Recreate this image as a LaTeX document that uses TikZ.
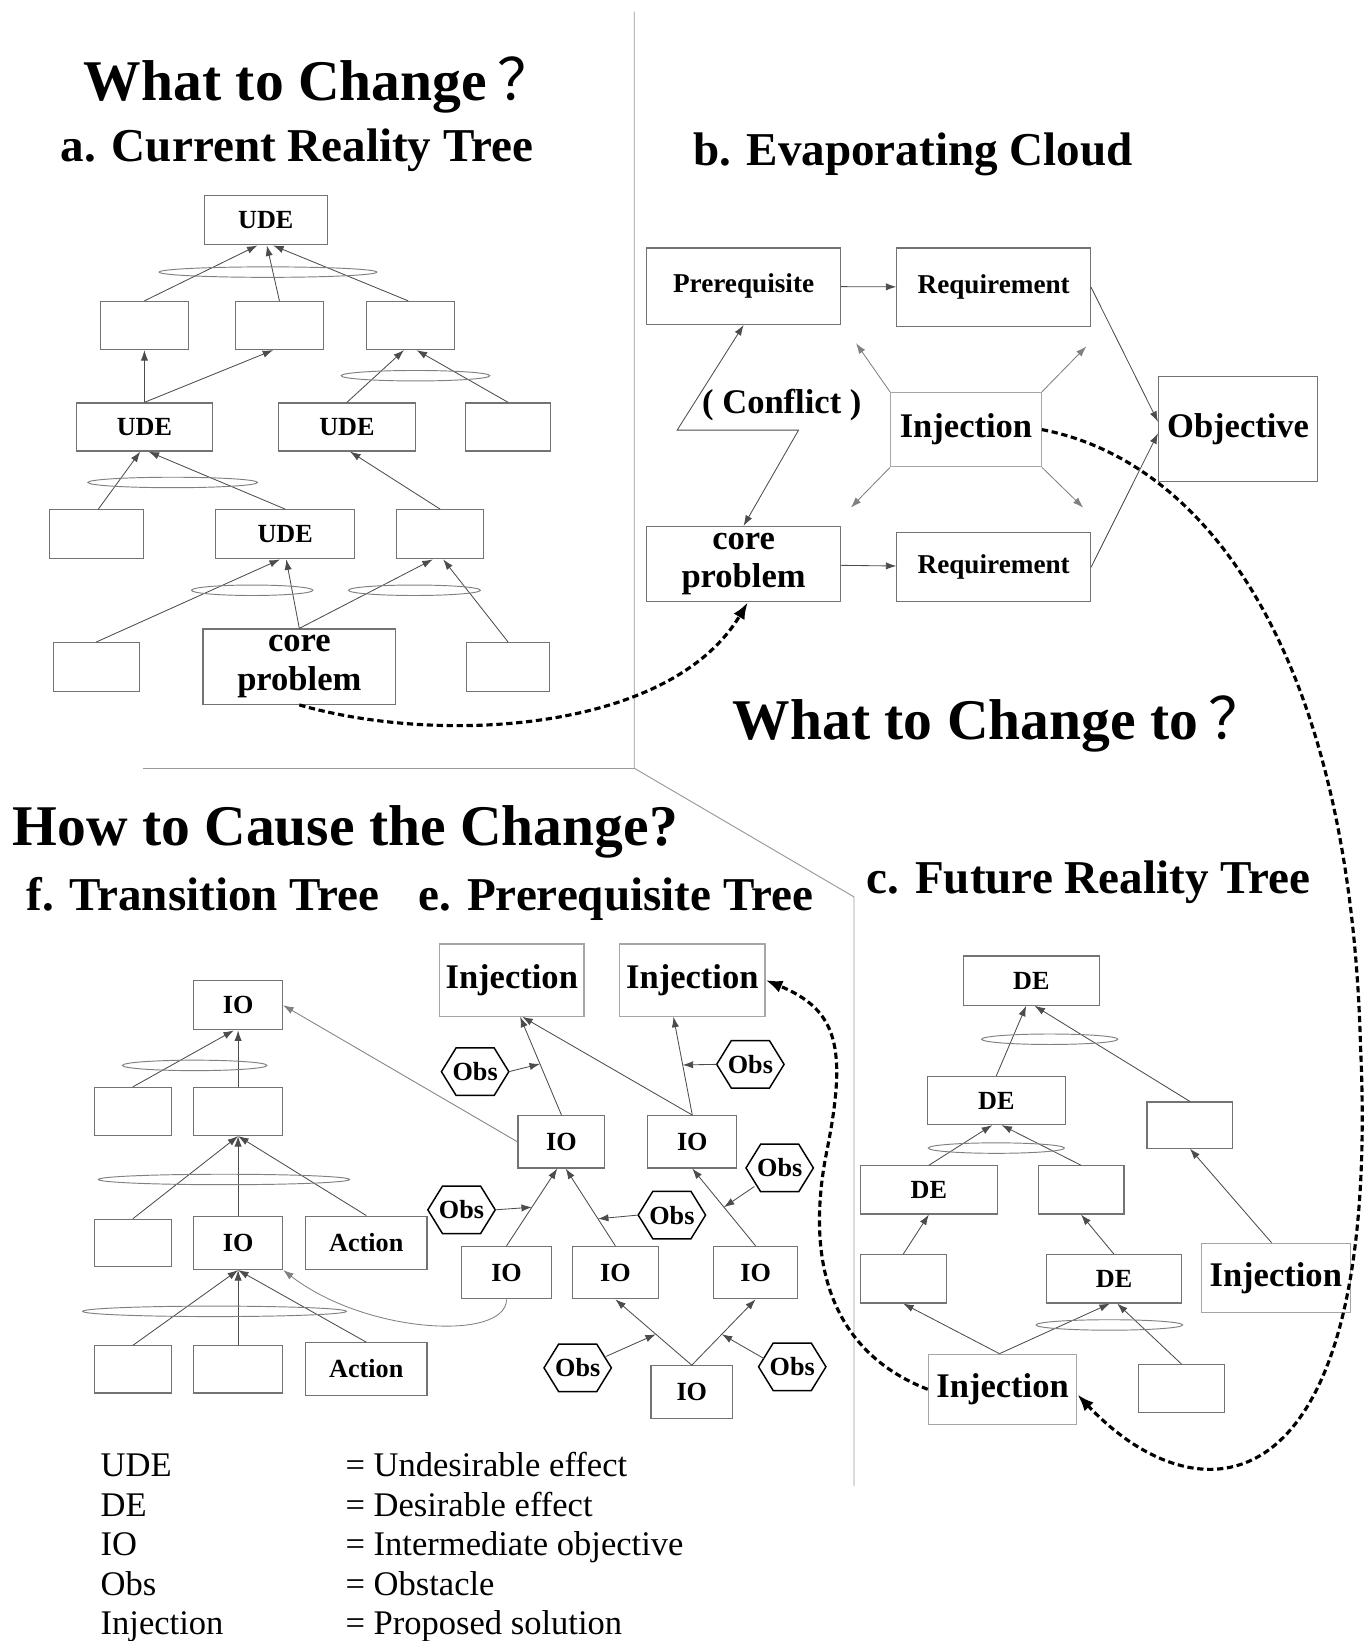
\documentclass[tikz,border=0pt]{standalone}
\usepackage{fontspec}
\setmainfont{Liberation Serif}
\newfontfamily\cjk{Noto Sans CJK SC}
\usetikzlibrary{arrows.meta,calc}

\tikzset{
  box/.style={draw=black!55, line width=1.1pt, inner sep=0pt, font=\bfseries\fontsize{25}{28}\selectfont},
  bigbox/.style={box, align=center, font=\bfseries\fontsize{33}{37}\selectfont},
  injbox/.style={bigbox, draw=black!35},
  reqbox/.style={box, font=\bfseries\fontsize{26}{28}\selectfont},
  arr/.style={draw=black!70, line width=0.8pt, -{Latex[length=10pt,width=7pt]}},
  thinarr/.style={arr, draw=black!50},
  andring/.style={draw=black!50, line width=0.9pt},
  divider/.style={draw=black!40, line width=0.9pt},
  jump/.style={line width=3pt, dash pattern=on 6pt off 3.5pt, -{Latex[length=16pt,width=12pt]}},
  obs/.style={inner sep=0pt, minimum width=64, minimum height=45, font=\bfseries\fontsize{25}{28}\selectfont},
  hexline/.style={draw=black, line width=1.4pt},
  bighead/.style={anchor=base west, inner sep=0pt, font=\bfseries\fontsize{55}{60}\selectfont},
  subhead/.style={anchor=base west, inner sep=0pt, font=\bfseries\fontsize{45}{50}\selectfont},
  keytext/.style={anchor=base west, inner sep=0pt, font=\fontsize{33}{38}\selectfont},
}

\begin{document}
\begin{tikzpicture}[x=1pt, y=-1pt]
  \fill[white] (0,0) rectangle (1306,1568);
  \useasboundingbox (0,0) rectangle (1306,1568);

  % dividers
  \draw[divider] (606,11) -- (606,734) -- (816,857) -- (816,1420);
  \draw[divider] (137,734) -- (606,734);

  % headings
  \node[bighead] (hwhat) at (80,96) {What to Change\hspace{10pt}{\cjk\mdseries ？}};
  \node[subhead] (hcrt) at (58,154) {a. Current Reality Tree};
  \node[subhead] (hec) at (662,158) {b. Evaporating Cloud};
  \node[bighead] (hwhatto) at (700,707) {What to Change to\hspace{10pt}{\cjk\mdseries ？}};
  \node[bighead] (hhow) at (12,808) {How to Cause the Change?};
  \node[subhead] (htt) at (25,870) {f. Transition Tree};
  \node[subhead] (hpt) at (400,870) {e. Prerequisite Tree};
  \node[subhead] (hfrt) at (828,854) {c. Future Reality Tree};

  % a. current reality tree
  \node[box, minimum width=118, minimum height=47] (a1) at (254,210.5) {UDE};
  \foreach \n/\cx in {21/138, 22/267, 23/392}
    \node[box, minimum width=84, minimum height=46] (a\n) at (\cx,311) {};
  \node[box, minimum width=130, minimum height=46] (a31) at (138,408) {UDE};
  \node[box, minimum width=131, minimum height=46] (a32) at (331.5,408) {UDE};
  \node[box, minimum width=81, minimum height=46] (a33) at (485.5,408) {};
  \node[box, minimum width=90, minimum height=47] (a41) at (92,510.5) {};
  \node[box, minimum width=133, minimum height=47] (a42) at (272.5,510.5) {UDE};
  \node[box, minimum width=83, minimum height=47] (a43) at (420.5,510.5) {};
  \node[box, minimum width=82, minimum height=47] (a51) at (92,637.5) {};
  \node[bigbox, minimum width=184, minimum height=72] (a52) at (286,637) {core\\problem};
  \node[box, minimum width=79, minimum height=47] (a53) at (485.5,637.5) {};

  \draw[arr] (a21.north) -- ([xshift=-8]a1.south);
  \draw[arr] (a22.north) -- ([xshift=1]a1.south);
  \draw[arr] ([xshift=-2]a23.north) -- ([xshift=7]a1.south);
  \draw[arr] (a31.north) -- (a21.south);
  \draw[arr] (a31.north) -- ([xshift=-6]a22.south);
  \draw[arr] (a32.north) -- ([xshift=-6]a23.south);
  \draw[arr] (a33.north) -- ([xshift=6]a23.south);
  \draw[arr] ([xshift=2]a41.north) -- ([xshift=-4]a31.south);
  \draw[arr] (a42.north) -- ([xshift=4]a31.south);
  \draw[arr] (a43.north) -- ([xshift=3]a32.south);
  \draw[arr] (a51.north) -- ([xshift=-5]a42.south);
  \draw[arr] (a52.north) -- ([xshift=1]a42.south);
  \draw[arr] (a52.north) -- ([xshift=-7]a43.south);
  \draw[arr] (a53.north) -- ([xshift=3]a43.south);
  \foreach \cx/\cy/\rx in {256/260/104, 397/359/71, 165/461/81, 241/564/58, 396/564/63}
    \draw[andring] (\cx,\cy) ellipse [x radius=\rx, y radius=5];

  % b. evaporating cloud
  \node[reqbox, minimum width=185, minimum height=73] (bpre) at (710.5,273.5) {Prerequisite};
  \node[reqbox, minimum width=185, minimum height=75] (breq1) at (949.5,274.5) {Requirement};
  \node[injbox, minimum width=144, minimum height=71] (binj) at (923,410.5) {Injection};
  \node[bigbox, minimum width=152, minimum height=100] (bobj) at (1183,410) {Objective};
  \node[bigbox, minimum width=185, minimum height=72] (bcore) at (710.5,539) {core\\problem};
  \node[reqbox, minimum width=185, minimum height=66] (breq2) at (949.5,542) {Requirement};
  \node[inner sep=0pt, font=\bfseries\fontsize{33}{36}\selectfont] (bconf) at (747,387) {( Conflict )};

  \draw[arr] (bpre) -- (breq1);
  \draw[arr] (bcore) -- (breq2);
  \draw[arr] (breq1.east) -- ([yshift=7]bobj.west);
  \draw[arr] (breq2.east) -- ([yshift=-4]bobj.west);
  \coordinate (cf1) at (763,411);
  \coordinate (cf2) at (647,411);
  \draw[arr, {Latex[length=10pt,width=7pt]}-{Latex[length=10pt,width=7pt]}]
    (bcore.north) -- (cf1) -- (cf2) -- (bpre.south);
  \coordinate (bnw) at (818,328);
  \coordinate (bne) at (1038,331);
  \coordinate (bsw) at (813,485);
  \coordinate (bse) at (1035,485);
  \draw[thinarr] (binj.north west) -- (bnw);
  \draw[thinarr] (binj.north east) -- (bne);
  \draw[thinarr] (binj.south west) -- (bsw);
  \draw[thinarr] (binj.south east) -- (bse);

  % c. future reality tree
  \node[box, minimum width=130, minimum height=47] (c1) at (985.5,937) {DE};
  \node[box, minimum width=132, minimum height=46] (c2) at (952,1051.5) {DE};
  \node[box, minimum width=82, minimum height=44] (c2r) at (1137,1075) {};
  \node[box, minimum width=131, minimum height=46] (c3) at (887.5,1137) {DE};
  \node[box, minimum width=82, minimum height=46] (c3r) at (1033,1137) {};
  \node[box, minimum width=82, minimum height=46] (c4) at (863,1222) {};
  \node[box, minimum width=129, minimum height=46] (c4m) at (1064.5,1222) {DE};
  \node[injbox, minimum width=142, minimum height=66] (cinj1) at (1219,1221) {Injection};
  \node[injbox, minimum width=142, minimum height=67] (cinj2) at (958,1327.5) {Injection};
  \node[box, minimum width=82, minimum height=46] (c5r) at (1129,1327) {};

  \draw[arr] (c2.north) -- ([xshift=-5]c1.south);
  \draw[arr] (c2r.north) -- ([xshift=3]c1.south);
  \draw[arr] (c3.north) -- ([xshift=-4]c2.south);
  \draw[arr] (c3r.north) -- ([xshift=5]c2.south);
  \draw[arr] (c4.north) -- (c3.south);
  \draw[arr] (c4m.north) -- (c3r.south);
  \draw[arr] ([xshift=-4]cinj1.north) -- (c2r.south);
  \draw[arr] ([xshift=-3]cinj2.north) -- (c4.south);
  \draw[arr] ([xshift=-3]cinj2.north) -- ([xshift=-4]c4m.south);
  \draw[arr] (c5r.north) -- ([xshift=3]c4m.south);
  \foreach \cx/\cy/\rx in {1003/993/65, 952/1097/65, 1060/1266/70}
    \draw[andring] (\cx,\cy) ellipse [x radius=\rx, y radius=5];

  % e. prerequisite tree
  \node[injbox, minimum width=138, minimum height=69] (einj1) at (489,936.5) {Injection};
  \node[injbox, minimum width=139, minimum height=69] (einj2) at (661.5,936.5) {Injection};
  \node[box, minimum width=83, minimum height=50] (eio1) at (536.5,1091) {IO};
  \node[box, minimum width=85, minimum height=50] (eio2) at (661.5,1091) {IO};
  \node[box, minimum width=86, minimum height=50] (eio3) at (484,1216) {IO};
  \node[box, minimum width=82, minimum height=50] (eio4) at (588,1216) {IO};
  \node[box, minimum width=80, minimum height=50] (eio5) at (722,1216) {IO};
  \node[box, minimum width=78, minimum height=50] (eio6) at (661,1330) {IO};
  \foreach \n/\cx/\cy in {1/454/1024, 2/717/1017, 3/745/1116, 4/441/1156, 5/642/1161, 6/552/1307, 7/757/1306} {
    \node[obs] (obs\n) at (\cx,\cy) {Obs};
    \draw[hexline] (obs\n.west) -- ([xshift=14]obs\n.north west) -- ([xshift=-14]obs\n.north east)
      -- (obs\n.east) -- ([xshift=-14]obs\n.south east) -- ([xshift=14]obs\n.south west) -- cycle;
  }

  \draw[arr] (eio1.north) -- ([xshift=8]einj1.south);
  \draw[arr] (eio2.north) -- ([xshift=10]einj1.south);
  \draw[arr] (eio2.north) -- ([xshift=-18]einj2.south);
  \draw[arr] (eio3.north) -- ([xshift=-4]eio1.south);
  \draw[arr] (eio4.north) -- ([xshift=4]eio1.south);
  \draw[arr] (eio5.north) -- (eio2.south);
  \draw[arr] (eio6.north) -- (eio4.south);
  \draw[arr] (eio6.north) -- (eio5.south);
  \coordinate (p1) at ($(eio1.north)!0.52!([xshift=8]einj1.south)$);
  \coordinate (p2) at ($(eio2.north)!0.51!([xshift=-18]einj2.south)$);
  \coordinate (p3) at ($(eio5.north)!0.5!(eio2.south)$);
  \coordinate (p4) at ($(eio3.north)!0.5!([xshift=-4]eio1.south)$);
  \coordinate (p5) at ($(eio4.north)!0.35!([xshift=4]eio1.south)$);
  \coordinate (p6) at ($(eio6.north)!0.47!(eio4.south)$);
  \coordinate (p7) at ($(eio6.north)!0.47!(eio5.south)$);
  \draw[arr] (obs1.east) -- (p1);
  \draw[arr] (obs2.west) -- (p2);
  \draw[arr] ([xshift=8,yshift=5]obs3.south west) -- (p3);
  \draw[arr] (obs4.east) -- (p4);
  \draw[arr] (obs5.west) -- (p5);
  \draw[arr] ([xshift=-5,yshift=11]obs6.east) -- (p6);
  \draw[arr] ([xshift=5,yshift=8]obs7.west) -- (p7);

  % f. transition tree
  \node[box, minimum width=85, minimum height=47] (fio1) at (227.5,960.5) {IO};
  \node[box, minimum width=74, minimum height=46] (f21) at (127,1062) {};
  \node[box, minimum width=85, minimum height=46] (f22) at (227.5,1062) {};
  \node[box, minimum width=74, minimum height=45] (f31) at (127,1187.5) {};
  \node[box, minimum width=85, minimum height=51] (fio2) at (227.5,1187.5) {IO};
  \node[box, minimum width=116, minimum height=51] (fact1) at (350,1187.5) {Action};
  \node[box, minimum width=74, minimum height=45] (f41) at (127,1308.5) {};
  \node[box, minimum width=85, minimum height=45] (f42) at (227.5,1308.5) {};
  \node[box, minimum width=116, minimum height=50] (fact2) at (350,1308) {Action};

  \draw[arr] (f21.north) -- ([xshift=-4]fio1.south);
  \draw[arr] (f22.north) -- (fio1.south);
  \foreach \s in {f31, fio2, fact1}
    \draw[arr] (\s.north) -- (f22.south);
  \foreach \s in {f41, f42, fact2}
    \draw[arr] (\s.north) -- (fio2.south);
  \foreach \cx/\cy/\rx in {186/1018/69, 214/1127/120, 205/1253/126}
    \draw[andring] (\cx,\cy) ellipse [x radius=\rx, y radius=5];

  % links between the trees
  \draw[thinarr] (eio1.west) -- (fio1.east);
  \draw[thinarr] (eio3.south) .. controls +(0,40) and (350,1275) .. (fio2.south east);
  \draw[jump] (a52.south) .. controls (420,712) and (640,700) .. ([xshift=4]bcore.south);
  \draw[jump] (binj.east) .. controls (1150,440) and (1290,620) .. (1300,1000)
    .. controls (1320,1440) and (1150,1460) .. ([yshift=-5]cinj2.east);
  \draw[jump] (cinj2.west) .. controls (790,1290) and (770,1200) .. (790,1100)
    .. controls (810,1000) and (800,965) .. (einj2.east);

  % legend
  \foreach \k/\v [count=\i from 0] in {UDE/Undesirable effect, DE/Desirable effect,
      IO/Intermediate objective, Obs/Obstacle, Injection/Proposed solution} {
    \node[keytext] (k\i) at (96,1411+37.75*\i) {\k};
    \node[keytext] (v\i) at (330,1411+37.75*\i) {= \v};
  }
\end{tikzpicture}
\end{document}
